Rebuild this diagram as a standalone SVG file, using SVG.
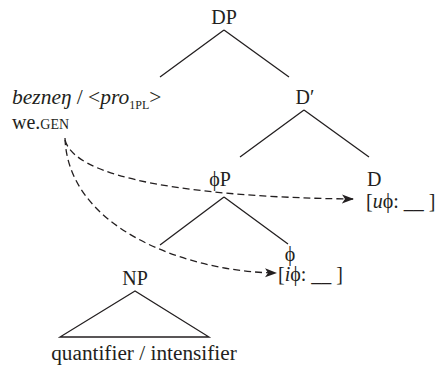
<svg xmlns="http://www.w3.org/2000/svg" width="436" height="367" viewBox="0 0 436 367">
<style>
text{font-family:'Liberation Serif','Times New Roman','DejaVu Serif',serif;font-size:20px;fill:#231f20}
.it{font-style:italic}
.big{font-size:21.5px}
.sc{font-size:14px}
.sub{font-size:12px}
.br{stroke:#231f20;stroke-width:1.3;fill:none}
.dash{stroke:#231f20;stroke-width:1.3;fill:none;stroke-dasharray:7 4}
</style>
<defs>
<marker id="ah" markerWidth="12" markerHeight="10" refX="11" refY="5" orient="auto" markerUnits="userSpaceOnUse">
<path d="M0,0.5 L12,5 L0,9.5 L3,5 Z" fill="#231f20"/>
</marker>
</defs>
<rect width="436" height="367" fill="#fff"/>
<g id="DP"><text x="224" y="24" text-anchor="middle">DP</text></g>
<g id="spec"><text class="big" x="12" y="104"><tspan class="it">bezneŋ</tspan> / &lt;<tspan class="it">pro</tspan><tspan class="sub" dy="5">1PL</tspan><tspan dy="-5">&gt;</tspan></text>
<text x="12" y="129">we.<tspan class="sc">GEN</tspan></text></g>
<g id="Dbar"><text x="305" y="104" text-anchor="middle">D′</text></g>
<g id="phiP"><text x="220" y="186" text-anchor="middle">ϕP</text></g>
<g id="D"><text x="367" y="186">D</text><text x="366" y="208">[<tspan class="it">u</tspan>ϕ: __ ]</text></g>
<g id="phi"><text x="290" y="261" text-anchor="middle">ϕ</text><text x="278" y="281">[<tspan class="it">i</tspan>ϕ: __ ]</text></g>
<g id="NP"><text x="135" y="285" text-anchor="middle">NP</text>
<path class="br" d="M135,291 L60,337 L209,337 Z"/>
<text x="144" y="360" text-anchor="middle" style="font-size:21.3px">quantifier / intensifier</text></g>
<g id="connectors">
<path class="br" d="M224,30 L160,77 M224,30 L289,77"/>
<path class="br" d="M304,110 L240,157 M304,110 L369,157"/>
<path class="br" d="M224,197 L160,245 M224,197 L288,244"/>
<path class="dash" d="M65,140 C78,188 250,198 353,199" marker-end="url(#ah)"/>
<path class="dash" d="M65,138 C68,230 190,272 276,273" marker-end="url(#ah)"/>
</g>
</svg>
